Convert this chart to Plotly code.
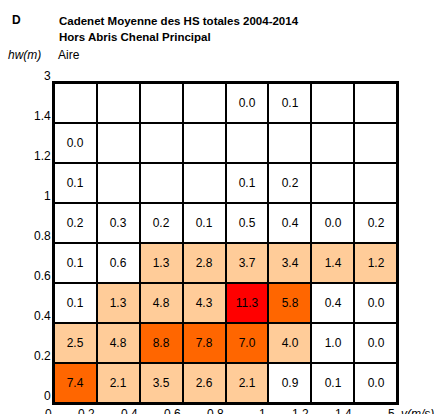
import plotly.graph_objects as go

# Data: rows from bottom (hw 0-0.2) to top (hw 1.4-3); columns v classes
v_edges = ["0", "0.2", "0.4", "0.6", "0.8", "1", "1.2", "1.4", "5"]
hw_edges = ["0", "0.2", "0.4", "0.6", "0.8", "1", "1.2", "1.4", "3"]

row_0_02 = [7.4, 2.1, 3.5, 2.6, 2.1, 0.9, 0.1, 0.0]
row_02_04 = [2.5, 4.8, 8.8, 7.8, 7.0, 4.0, 1.0, 0.0]
row_04_06 = [0.1, 1.3, 4.8, 4.3, 11.3, 5.8, 0.4, 0.0]
row_06_08 = [0.1, 0.6, 1.3, 2.8, 3.7, 3.4, 1.4, 1.2]
row_08_1 = [0.2, 0.3, 0.2, 0.1, 0.5, 0.4, 0.0, 0.2]
row_1_12 = [0.1, None, None, None, 0.1, 0.2, None, None]
row_12_14 = [0.0, None, None, None, None, None, None, None]
row_14_3 = [None, None, None, None, 0.0, 0.1, None, None]

rows = [row_0_02, row_02_04, row_04_06, row_06_08, row_08_1, row_1_12, row_12_14, row_14_3]

def cls(v):
    if v is None or v <= 1.05:
        return 0
    if v < 5:
        return 1
    if v < 10:
        return 2
    return 3

z = [[cls(v) for v in r] for r in rows]
text = [["" if v is None else f"{v:.1f}" for v in r] for r in rows]

colors = ["#FFFFFF", "#FFCC99", "#FF6600", "#FF0000"]
cs = []
for i, c in enumerate(colors):
    cs.append([i / 4, c])
    cs.append([(i + 1) / 4, c])

font = "Liberation Sans, Arial"
n = len(v_edges) - 1
fig = go.Figure(go.Heatmap(
    z=z, x=list(range(n)), y=list(range(len(rows))),
    text=text, texttemplate="%{text}",
    textfont=dict(family=font, size=12, color="black"),
    colorscale=cs, zmin=-0.5, zmax=3.5, showscale=False,
    xgap=2, ygap=2, hoverinfo="skip",
))

W, H = 442, 414
ML, MR, MT, MB = 54, 45, 83, 11
fig.update_layout(
    width=W, height=H,
    margin=dict(l=ML, r=MR, t=MT, b=MB),
    plot_bgcolor="black", paper_bgcolor="white",
    font=dict(family=font, size=12, color="black"),
    xaxis=dict(range=[-0.5, n - 0.5], showticklabels=False, showgrid=False,
               zeroline=False, showline=True, linecolor="black", linewidth=2, mirror=True),
    yaxis=dict(range=[-0.5, len(rows) - 0.5], showticklabels=False, showgrid=False,
               zeroline=False, showline=True, linecolor="black", linewidth=2, mirror=True),
)

ann = []
for i, lab in enumerate(v_edges):
    ann.append(dict(x=i - 0.5, y=0, xref="x", yref="paper", text=lab,
                    xanchor="right", yanchor="top", yshift=-2, showarrow=False,
                    font=dict(size=12)))
ann.append(dict(x=1, y=0, xref="paper", yref="paper", text="<i>v(m/s)</i>",
                xanchor="left", yanchor="top", xshift=2, yshift=-2, showarrow=False,
                font=dict(size=12)))
for j, lab in enumerate(hw_edges):
    ann.append(dict(x=0, y=j - 0.5, xref="paper", yref="y", text=lab,
                    xanchor="right", yanchor="bottom", xshift=-1, yshift=-2, showarrow=False,
                    font=dict(size=12)))

def px(xp, yp):
    # convert pixel coords to paper coords
    return (xp - ML) / (W - ML - MR), (H - MB - yp) / (H - MT - MB)

for xp, yp, t, s in [(10, 20, "<b>D</b>", 12),
                     (57, 21, "<b>Cadenet Moyenne des HS totales 2004-2014</b>", 11.5),
                     (57, 37, "<b>Hors Abris Chenal Principal</b>", 11.5),
                     (6, 55, "<i>hw(m)</i>", 12), (56, 55, "Aire", 12)]:
    x, y = px(xp, yp)
    ann.append(dict(x=x, y=y, xref="paper", yref="paper", text=t, xanchor="left",
                    yanchor="middle", showarrow=False, font=dict(size=s)))

fig.update_layout(annotations=ann)
fig.write_html("out.html", config={"displayModeBar": False},
               post_script="document.body.style.margin='0';")
